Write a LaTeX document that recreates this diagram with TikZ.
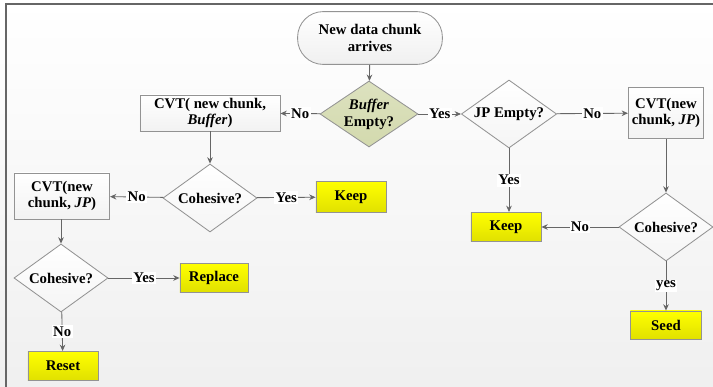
\documentclass[tikz,border=0pt]{standalone}
\usepackage{fontspec}
\setmainfont{Liberation Serif}
\usetikzlibrary{shapes.geometric,arrows.meta}

\tikzset{
  base/.style={font=\fontsize{10.5}{12}\selectfont\bfseries, align=center, draw=gray!85, line width=0.6pt},
  start/.style={base, rectangle, rounded corners=0.64cm, minimum width=3.62cm, minimum height=1.32cm, top color=white, bottom color=gray!12},
  process/.style={base, rectangle, inner sep=2pt, top color=white, bottom color=gray!10},
  decision/.style={base, diamond, aspect=1.4, inner sep=0pt, minimum width=2.35cm, minimum height=1.7cm, top color=white, bottom color=gray!8},
  result/.style={base, rectangle, minimum height=0.73cm, top color=yellow, bottom color=yellow!88!black},
  line/.style={draw=gray!80!black, line width=0.6pt, -{Stealth[length=4.5pt,width=4pt]}},
  lbl/.style={fill=white, inner sep=1pt, font=\fontsize{10.5}{12}\selectfont\bfseries}
}

\begin{document}
\begin{tikzpicture}[x=0.025cm,y=-0.025cm]
% background and frame
\useasboundingbox (0,0) rectangle (713,387);
\shade[top color=white, bottom color=gray!12] (0,0) rectangle (713,387);
\draw[gray!80!black, line width=1pt] (6,387) -- (6,4) -- (713,4);

% top of the chart
\node[start] (arrive) at (370,38) {New data chunk\\arrives};
\node[decision, top color=green!8!olive!25, bottom color=green!8!olive!32, minimum width=2.45cm, minimum height=1.65cm, inner sep=-3pt] (buf) at (369,114) {\textit{Buffer}\\Empty?};

% left branch
\node[process, minimum width=3.5cm, minimum height=0.9cm] (cvtbuf) at (210,113) {CVT( new chunk,\\\textit{Buffer})};
\node[decision] (coh1) at (210,198) {Cohesive?};
\node[result, minimum width=1.75cm, minimum height=0.78cm] (keep1) at (351,197) {Keep};
\node[process, minimum width=2.38cm, minimum height=1.15cm] (cvtjp1) at (62,196) {CVT(new\\chunk, \textit{JP})};
\node[decision] (coh2) at (61,278) {Cohesive?};
\node[result, minimum width=1.7cm] (replace) at (214,278) {Replace};
\node[result, minimum width=1.75cm] (reset) at (63,366) {Reset};

% right branch
\node[decision, minimum width=2.38cm] (jp) at (509,114) {JP Empty?};
\node[process, minimum width=1.88cm, minimum height=1.28cm] (cvtjp2) at (666,113) {CVT(new\\chunk, \textit{JP})};
\node[decision] (coh3) at (666,227) {Cohesive?};
\node[result, minimum width=1.75cm] (keep2) at (506,227) {Keep};
\node[result, minimum width=1.78cm, minimum height=0.7cm] (seed) at (666,325) {Seed};

% connectors
\draw[line] (arrive) -- (buf);
\draw[line] (buf) -- node[lbl] {No} (cvtbuf);
\draw[line] (buf) -- node[lbl] {Yes} (jp);
\draw[line] (cvtbuf) -- (coh1);
\draw[line] (coh1) -- node[lbl] {No} (cvtjp1);
\draw[line] (coh1) -- node[lbl] {Yes} (keep1);
\draw[line] (cvtjp1.south -| coh2.north) -- (coh2);
\draw[line] (coh2) -- node[lbl] {Yes} (replace);
\draw[line] (coh2) -- node[lbl] {No} (reset);
\draw[line] (jp) -- node[lbl] {No} (cvtjp2);
\draw[line] (jp.south) -- node[lbl] {Yes} (jp.south |- keep2.north);
\draw[line] (cvtjp2) -- (coh3);
\draw[line] (coh3) -- node[lbl] {No} (keep2);
\draw[line] (coh3) -- node[lbl] {yes} (seed);
\end{tikzpicture}
\end{document}
